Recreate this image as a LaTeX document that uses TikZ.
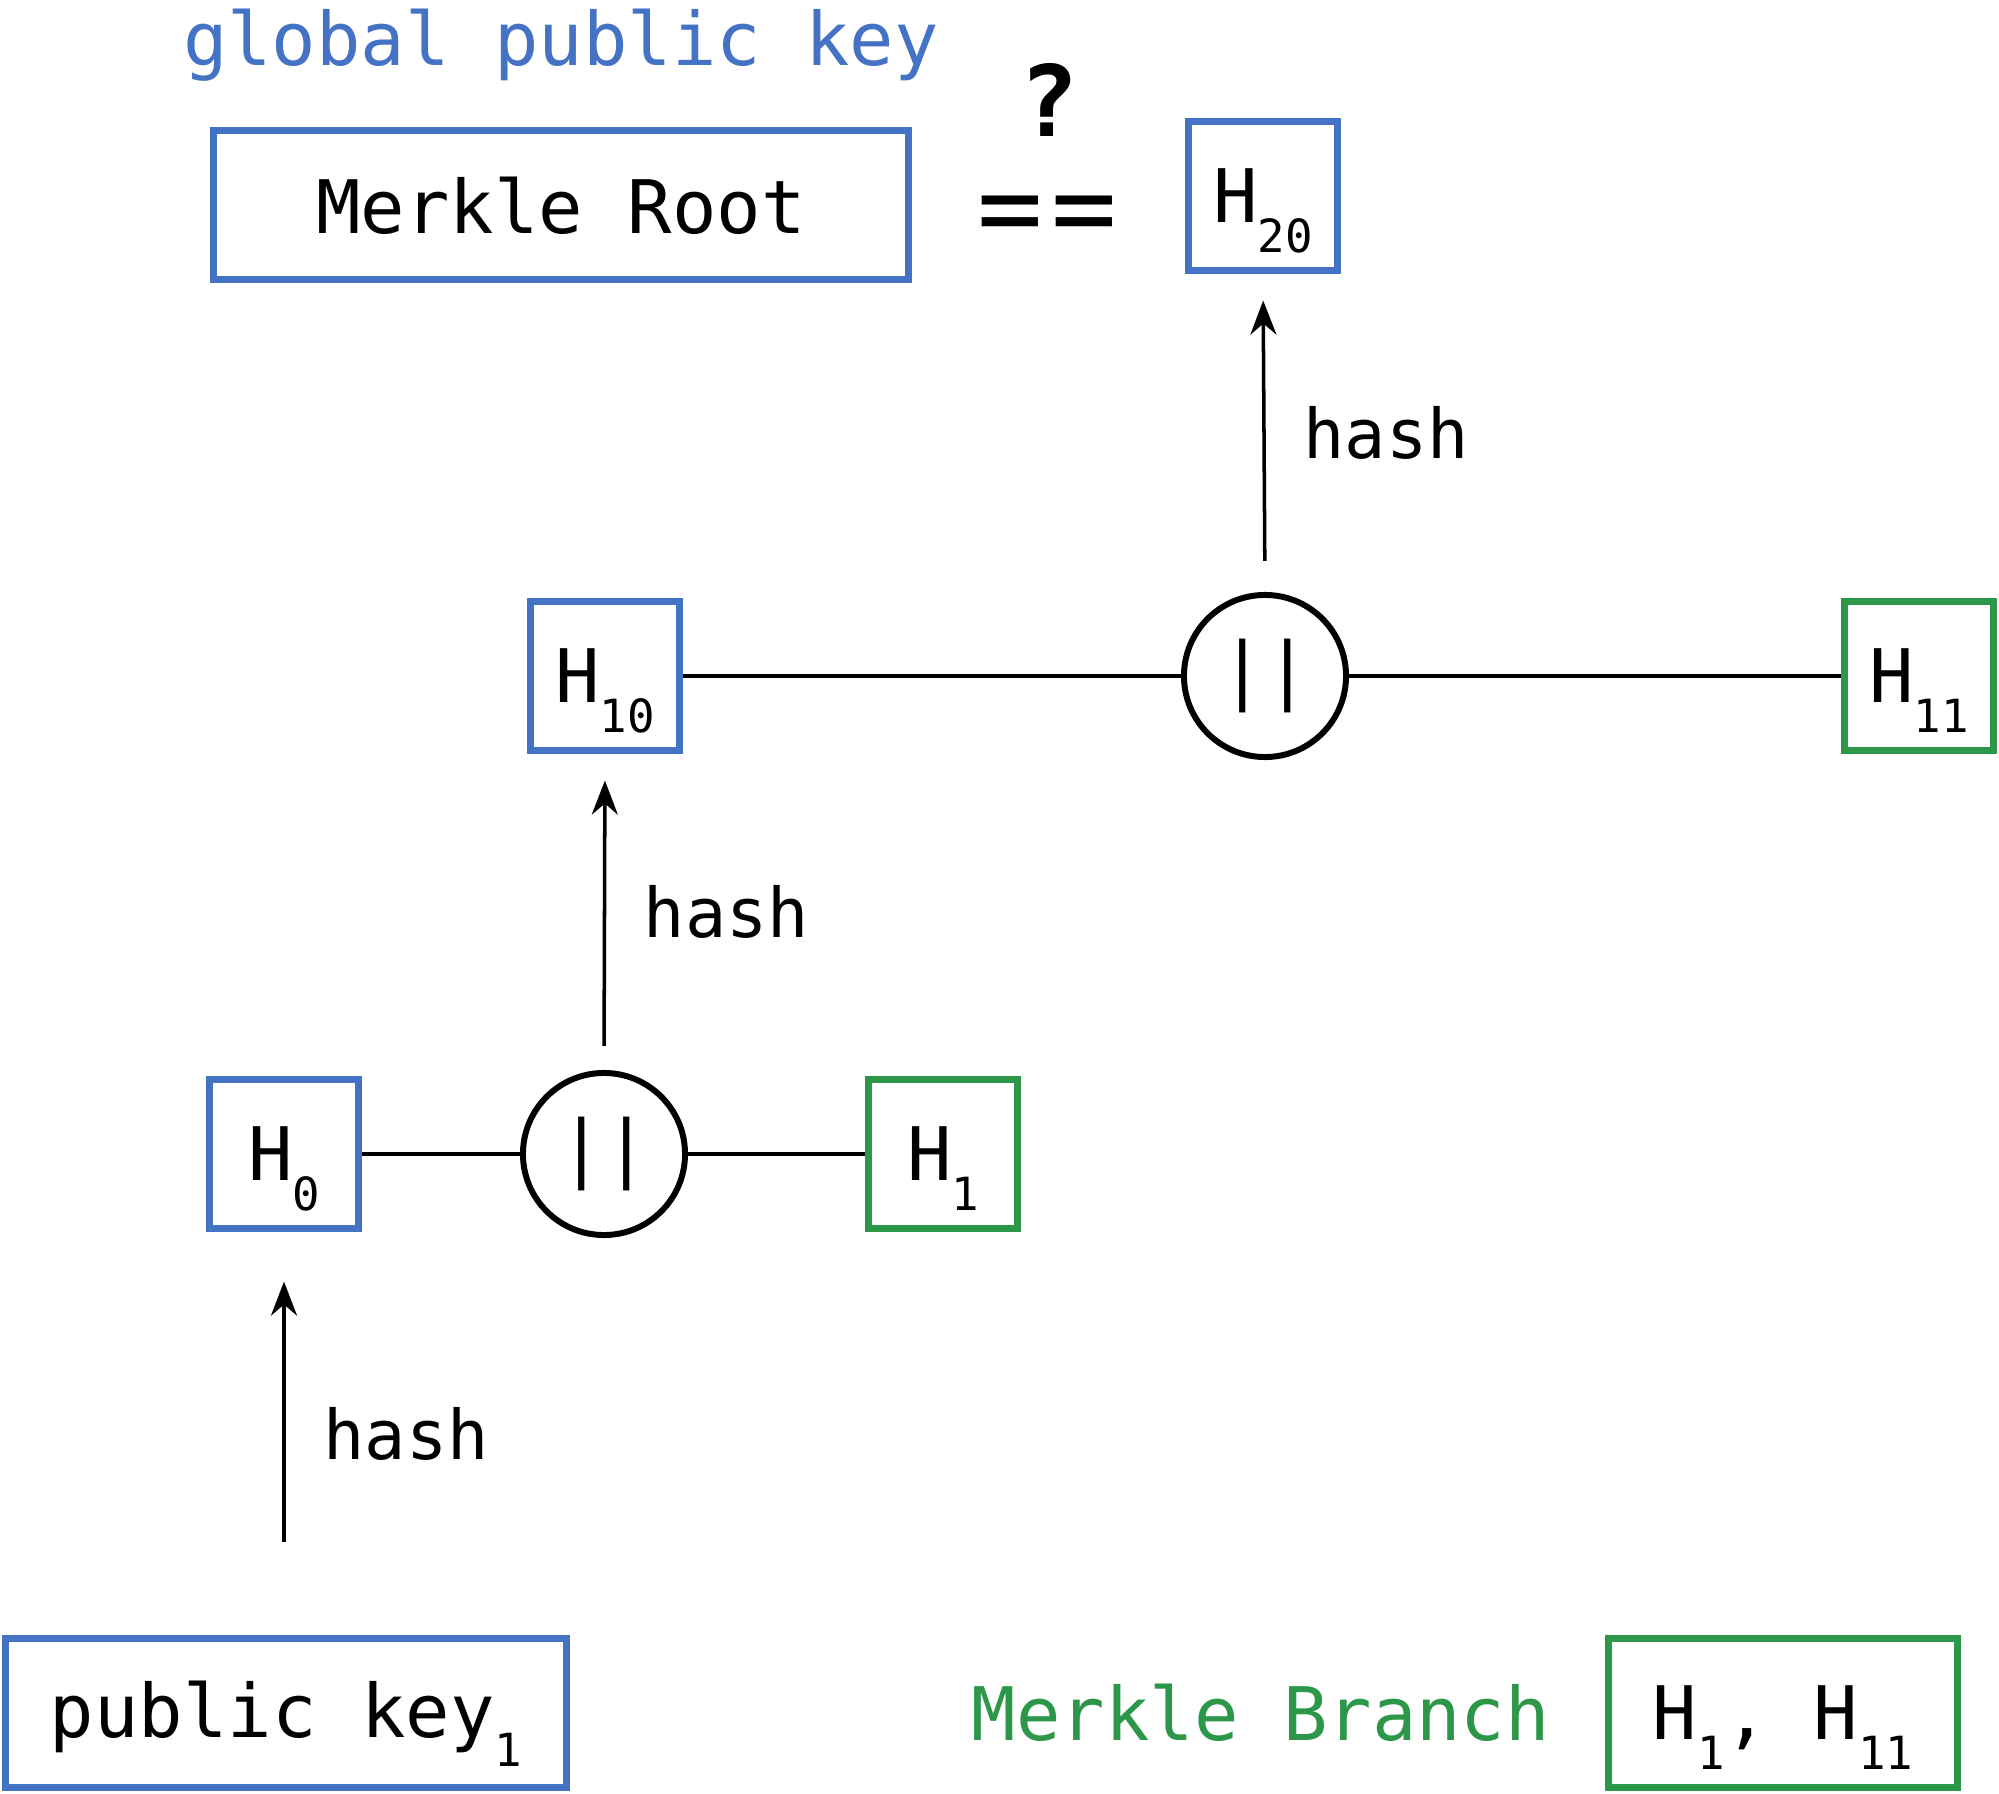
\documentclass[tikz,border=0pt]{standalone}
\usepackage{fontspec}
\setmainfont{DejaVu Sans Mono}
\usetikzlibrary{arrows.meta,positioning}

\definecolor{keyblue}{RGB}{68,114,196}
\definecolor{branchgreen}{RGB}{44,150,73}
\newcommand{\hsub}[1]{\raisebox{-0.4em}{\fontsize{13}{13}\selectfont #1}}

\begin{document}
\begin{tikzpicture}[
                    x=0.01cm, y=-0.01cm,
                    every node/.style={
                        font=\fontsize{21}{25}\selectfont
                    },
                    hbox/.style={
                        draw=keyblue,
                        line width=2pt,
                        minimum size=1.48cm,
                        inner sep=0pt,
                        text depth=0pt
                    },
                    gbox/.style={hbox, draw=branchgreen},
                    concat/.style={
                        circle,
                        draw,
                        line width=1.7pt,
                        minimum size=1.62cm,
                        inner sep=0pt
                    },
                    hasharrow/.style={
                        line width=1pt,
                        -{Stealth[length=0.34cm, width=0.26cm]}
                    },
                    hashlbl/.style={
                        right=0.26cm,
                        font=\fontsize{19.5}{24}\selectfont
                    },
                    bigsym/.style={
                        inner sep=0pt,
                        font=\fontsize{31}{31}\selectfont
                    }
                ]
                    \useasboundingbox (0,0) rectangle (1999,1794);

                    \node[text=keyblue, anchor=base] (gpk) at (561,66) {global public key};
                    \node[hbox, minimum width=6.95cm] (root) at (561,205) {Merkle Root};
                    \node[bigsym] (eq) at (1047,221) {=\kern0.08em=};
                    \node[bigsym, font=\bfseries\fontsize{28}{28}\selectfont] (q) at (1049,100) {?};
                    \node[hbox] (h20) at (1263,196) {H\hsub{20}};

                    \node[hbox] (h10) at (605,676) {H\hsub{10}};
                    \node[concat] (ctop) at (1265,676) {||};
                    \node[gbox] (h11) at (1919,676) {H\hsub{11}};

                    \node[hbox] (h0) at (284,1154) {H\hsub{0}};
                    \node[concat] (cbot) at (604,1154) {||};
                    \node[gbox] (h1) at (943,1154) {H\hsub{1}};

                    \node[hbox, minimum width=5.6cm, text depth=0.24em] (pk) at (286,1713) {public key\hsub{1}};
                    \node[gbox, minimum width=3.48cm] (br) at (1783,1713) {H\hsub{1}, H\hsub{11}};
                    \node[text=branchgreen, left=0.43cm of br] (mb) {Merkle Branch};

                    % Edges
                    \draw[line width=1.2pt] (h0) -- (cbot);
                    \draw[line width=1.2pt] (cbot) -- (h1);
                    \draw[line width=1.2pt] (h10) -- (ctop);
                    \draw[line width=1.2pt] (ctop) -- (h11);

                    % hash steps
                    \draw[hasharrow, shorten <=0.93cm, shorten >=0.5cm]
                        (h0.south |- pk.north) -- (h0.south) node[midway, hashlbl] (l0) {hash};
                    \draw[hasharrow, shorten <=0.24cm, shorten >=0.27cm]
                        (cbot.north) -- (h10.south) node[midway, hashlbl] (l1) {hash};
                    \draw[hasharrow, shorten <=0.31cm, shorten >=0.27cm]
                        (ctop.north) -- (h20.south) node[midway, hashlbl] (l2) {hash};
                \end{tikzpicture}
\end{document}
